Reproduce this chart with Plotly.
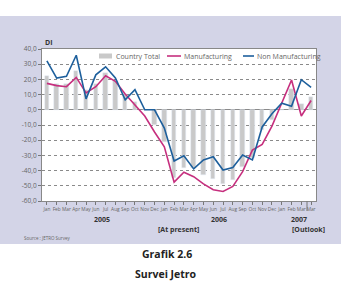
import plotly.graph_objects as go

months = ["Jan","Feb","Mar","Apr","May","Jun","Jul","Aug","Sep","Oct","Nov","Dec",
          "Jan","Feb","Mar","Apr","May","Jun","Jul","Aug","Sep","Oct","Nov","Dec",
          "Jan","Feb","Mar","Mar"]
country_total = [22, 17, 17, 25.5, 13, 17, 24.5, 19, 10.5, 5, 0, -10, -21, -45, -38, -38,
                 -43, -45.5, -49, -46, -37.5, -32, -13.5, -7, 0, 13.5, 4, 8.5]
manufacturing = [17.4, 15.9, 15.2, 21.3, 11.1, 15.2, 22.4, 18.7, 10.4, 2.8, -4.1, -14.6,
                 -24.3, -47.6, -41.1, -44, -48.7, -52.6, -53.7, -50.4, -40.7, -26.5, -22.8,
                 -10.7, 3.9, 19.6, -4.1, 6.1]
non_manufacturing = [32.2, 20.9, 22, 35.9, 7.2, 23, 28.3, 21, 6.5, 13.3, 0, 0, -12, -33.7,
                     -30.2, -38.9, -33, -30.9, -39.6, -38, -29.8, -33, -11.3, -2.6, 4.3, 2.4,
                     19.8, 14.8]
y_ticks = [40, 30, 20, 10, 0, -10, -20, -30, -40, -50, -60]
y_labels = ["40,0", "30,0", "20,0", "10,0", "0,0", "-10,0", "-20,0", "-30,0", "-40,0", "-50,0", "-60,0"]

W, H = 341, 285
L, R, T, B = 42, 316, 49, 201
def px(x): return (x - L) / (R - L)
def py(y): return (B - y) / (B - T)

BLUE = "#1d5f9c"
MAG = "#c62f7e"
GRAY = "#c9c9c9"
LAV = "#d3d4e7"
FONT = "Open Sans"

x = list(range(len(months)))
fig = go.Figure()
fig.add_bar(x=x, y=country_total, marker_color=GRAY, width=0.45, name="Country Total", showlegend=False)
fig.add_scatter(x=x, y=manufacturing, mode="lines", line=dict(color=MAG, width=1.6), name="Manufacturing", showlegend=False)
fig.add_scatter(x=x, y=non_manufacturing, mode="lines", line=dict(color=BLUE, width=1.6), name="Non Manufacturing", showlegend=False)

shapes = [
    dict(type="rect", xref="paper", yref="paper", x0=px(0), x1=px(W), y0=py(244), y1=py(16),
         fillcolor=LAV, line_width=0, layer="below"),
    dict(type="rect", xref="paper", yref="paper", x0=0, x1=1, y0=0, y1=1,
         fillcolor="white", line_width=0, layer="below"),
    # vertical separator before outlook
    dict(type="line", xref="paper", yref="paper", x0=px(307), x1=px(307), y0=py(201), y1=py(211),
         line=dict(color="#777", width=1)),
    # legend symbols
    dict(type="rect", xref="paper", yref="paper", x0=px(99), x1=px(112), y0=py(58.5), y1=py(53.5),
         fillcolor=GRAY, line_width=0),
    dict(type="line", xref="paper", yref="paper", x0=px(167), x1=px(181), y0=py(56), y1=py(56),
         line=dict(color=MAG, width=1.6)),
    dict(type="line", xref="paper", yref="paper", x0=px(243), x1=px(254), y0=py(56), y1=py(56),
         line=dict(color=BLUE, width=1.6)),
]

def ann(text, x, y, size, bold=False, color="#333", xanchor="center"):
    return dict(text=f"<b>{text}</b>" if bold else text, x=px(x), y=py(y), xref="paper", yref="paper",
                showarrow=False, xanchor=xanchor, yanchor="middle",
                font=dict(size=size, color=color, family=FONT))

annotations = [
    ann("Country Total", 114, 56, 7, color="#666", xanchor="left"),
    ann("Manufacturing", 182, 56, 7, color="#666", xanchor="left"),
    ann("Non Manufacturing", 255, 56, 7, color="#666", xanchor="left"),
    ann("DI", 43, 42, 7, bold=True, xanchor="left"),
    ann("2005", 102, 219, 7, bold=True),
    ann("2006", 219, 219, 7, bold=True),
    ann("2007", 299, 219, 7, bold=True),
    ann("[At present]", 178, 229, 7, bold=True),
    ann("[Outlook]", 308, 229, 7, bold=True),
    ann("Source : JETRO Survey", 22, 238, 4.5, color="#666", xanchor="left"),
    ann("Grafik 2.6", 167, 254, 10.5, bold=True, color="#222"),
    ann("Survei Jetro", 166, 274, 10.5, bold=True, color="#222"),
]

fig.update_layout(
    width=W, height=H, margin=dict(l=L, r=W - R, t=T, b=H - B, pad=0),
    paper_bgcolor="white", plot_bgcolor="rgba(0,0,0,0)",
    shapes=shapes, annotations=annotations, bargap=0, showlegend=False,
    font=dict(family=FONT, color="#555"),
)
fig.update_xaxes(range=[-0.5, len(months) - 0.5], tickmode="array", tickvals=x, ticktext=months,
                 tickangle=0, tickfont=dict(size=4.8, color="#666"), ticks="outside", ticklen=3,
                 tickcolor="#777", showline=True, linecolor="#888", mirror=True, showgrid=False,
                 zeroline=False)
fig.update_yaxes(range=[-60, 40], tickmode="array", tickvals=y_ticks, ticktext=y_labels,
                 tickfont=dict(size=6.5, color="#666"), ticks="outside", ticklen=3, tickcolor="#777",
                 showline=True, linecolor="#888", mirror=True, showgrid=True, gridcolor="#8a8a8a",
                 griddash="dot", gridwidth=1, zeroline=True, zerolinecolor="#8a8a8a", zerolinewidth=1)

fig.write_html("out.html")
